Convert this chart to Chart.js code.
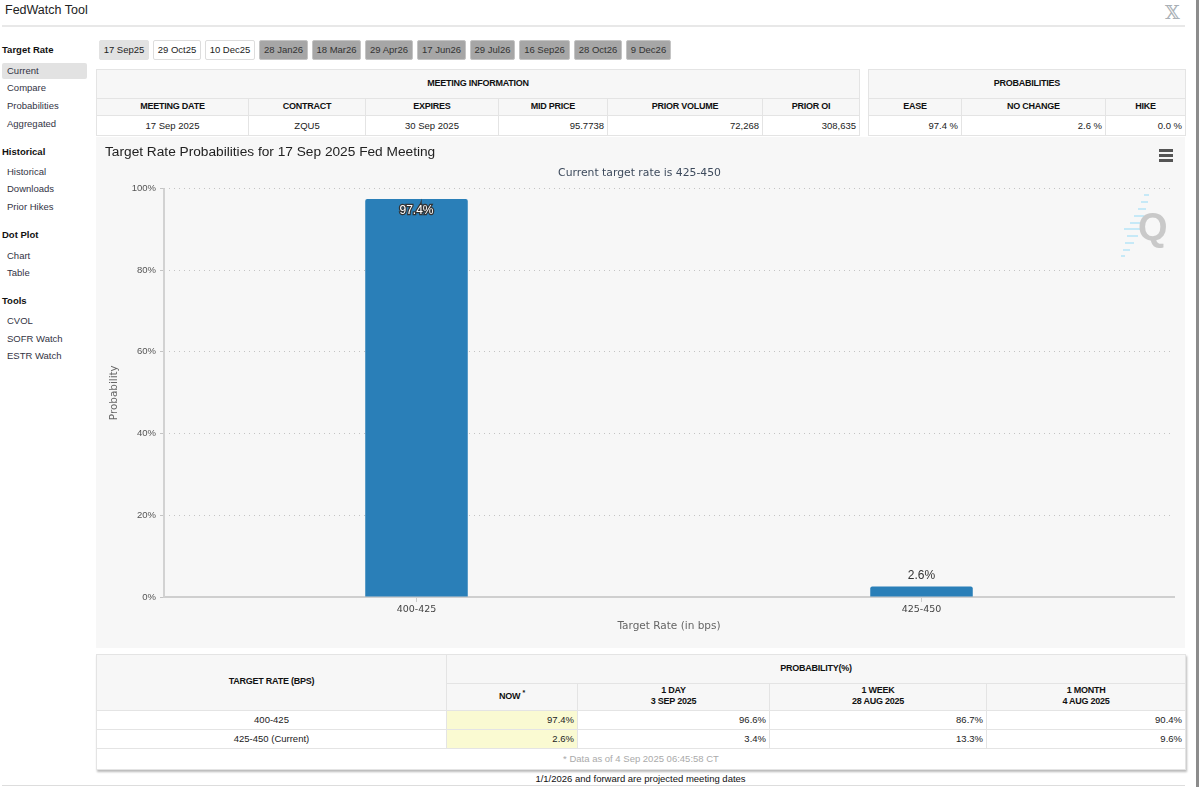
<!DOCTYPE html>
<html>
<head>
<meta charset="utf-8">
<title>FedWatch Tool</title>
<script src="https://cdn.jsdelivr.net/npm/chart.js@4"></script>
<style>
html, body { margin: 0; padding: 0; background: #fff; overflow: hidden; }
body { width: 1200px; height: 787px; position: relative; font-family: "Liberation Sans", Arial, sans-serif; color: #222; }
.abs { position: absolute; }
#top { left: 5px; top: 1px; font-size: 12.5px; line-height: 18px; color: #222; }
#topLine { left: 2px; top: 25px; width: 1183px; height: 2px; background: #e8e8e8; }
#xMark { left: 1165px; top: 2px; font-size: 19px; line-height: 20px; color: #a9b0b6; font-family: "DejaVu Serif", serif; }
#scrollEdge { left: 1196px; top: 0; width: 3px; height: 787px; background: #8c8c8c; }
.side { position: absolute; font-size: 9.5px; line-height: 12px; color: #334; left: 7px; }
.sideHead { position: absolute; font-size: 9.5px; line-height: 12px; font-weight: bold; color: #111; left: 2px; }
#sideOn { left: 2px; top: 63px; width: 85px; height: 16px; background: #e2e2e2; border-radius: 2px; }
.tab { position: absolute; top: 40px; height: 20px; box-sizing: border-box; line-height: 18px; text-align: center; font-size: 9.5px; border: 1px solid #ddd; border-radius: 2px; }
.tab.on { background: #e2e2e2; color: #222; border-color: #e2e2e2; }
.tab.open { background: #fff; color: #222; }
.tab.far { background: #a6a6a6; color: #333; border-color: #c4c4c4; }
table { position: absolute; border-collapse: collapse; table-layout: fixed; font-size: 9.5px; color: #222; }
th, td { border: 1px solid #e4e4e4; padding: 0 3px; overflow: hidden; white-space: nowrap; box-sizing: border-box; }
th { background: #f7f7f7; font-weight: bold; color: #111; line-height: 11px; font-size: 9px; letter-spacing: -0.25px; padding-bottom: 2px; }
th.two { padding-bottom: 3px; }
td { background: #fff; padding-bottom: 1px; }
td.r { text-align: right; }
td.c { text-align: center; }
td.now { background: #fafad2; }
td.note { text-align: center; color: #aaa; }
#lower { box-shadow: 1px 2px 2px #bbb; }
#panel { left: 96px; top: 137px; width: 1089px; height: 511px; background: #f7f7f7; }
#chartWrap { left: 96px; top: 137px; width: 1089px; height: 511px; }
#menu { left: 1159px; top: 149px; width: 14px; }
#menu i { display: block; height: 3px; background: #555; margin-bottom: 2px; }
#logo { left: 1120px; top: 192px; }
#foot { left: 96px; top: 773px; width: 1089px; text-align: center; font-size: 9.5px; line-height: 12px; color: #111; }
#footLine { left: 2px; top: 785px; width: 1183px; height: 1px; background: #ddd; }
</style>
</head>
<body>
<div class="abs" id="top">FedWatch Tool</div>
<div class="abs" id="xMark">𝕏</div>
<div class="abs" id="topLine"></div>
<div class="abs" id="scrollEdge"></div>
<div class="abs" id="sideOn"></div>
<div id="sidebar"></div>
<div id="tabs"></div>

<table id="meeting" style="left:96px;top:69px;width:763px">
  <colgroup id="meetingCols"></colgroup>
  <tr style="height:29px"><th id="meetingHead"></th></tr>
  <tr style="height:17px" id="meetingLabels"></tr>
  <tr style="height:20px" id="meetingValues"></tr>
</table>
<table id="probs" style="left:868px;top:69px;width:317px">
  <colgroup id="probCols"></colgroup>
  <tr style="height:29px"><th colspan="3">PROBABILITIES</th></tr>
  <tr style="height:17px" id="probLabels"></tr>
  <tr style="height:20px" id="probValues"></tr>
</table>

<div class="abs" id="panel"></div>
<div class="abs" id="chartWrap"><canvas id="chartCanvas" width="1089" height="511"></canvas></div>
<div class="abs" id="menu"><i></i><i></i><i></i></div>
<svg class="abs" id="logo" width="50" height="66" viewBox="0 0 50 66">
  <g stroke="#c6e9f7" stroke-width="2">
    <line x1="24" y1="3" x2="29" y2="3"/><line x1="21" y1="10" x2="28" y2="10"/>
    <line x1="18" y1="17" x2="26" y2="17"/><line x1="14" y1="24" x2="24" y2="24"/>
    <line x1="10" y1="31" x2="22" y2="31"/><line x1="4" y1="37" x2="20" y2="37"/>
    <line x1="7" y1="44" x2="18" y2="44"/><line x1="5" y1="51" x2="14" y2="51"/>
    <line x1="3" y1="58" x2="10" y2="58"/><line x1="1" y1="64" x2="5" y2="64"/>
  </g>
  <text x="18" y="48" font-family="Liberation Sans" font-weight="bold" font-size="38" fill="#c9c9c9">Q</text>
</svg>

<table id="lower" style="left:96px;top:654px;width:1089px">
  <colgroup id="lowerCols"></colgroup>
  <tr style="height:29px"><th rowspan="2" id="rateHead"></th><th colspan="4">PROBABILITY(%)</th></tr>
  <tr style="height:27px" id="lowerLabels"></tr>
  <tr style="height:19px" id="rowA"></tr>
  <tr style="height:19px" id="rowB"></tr>
  <tr style="height:21px"><td colspan="5" class="note" id="asOf"></td></tr>
</table>
<div class="abs" id="foot">1/1/2026 and forward are projected meeting dates</div>
<div class="abs" id="footLine"></div>

<script>
// chart data
const targetRates = ['400-425', '425-450'];
const probabilities = [97.4, 2.6];
const yTicks = [0, 20, 40, 60, 80, 100];

// page text
const sideHeads = [['Target Rate', 44], ['Historical', 146], ['Dot Plot', 229], ['Tools', 295]];
const sideLinks = [['Current', 65], ['Compare', 82], ['Probabilities', 100], ['Aggregated', 118],
  ['Historical', 166], ['Downloads', 183], ['Prior Hikes', 201], ['Chart', 250], ['Table', 267],
  ['CVOL', 315], ['SOFR Watch', 333], ['ESTR Watch', 350]];
const tabNames = ['17 Sep25', '29 Oct25', '10 Dec25', '28 Jan26', '18 Mar26', '29 Apr26', '17 Jun26', '29 Jul26', '16 Sep26', '28 Oct26', '9 Dec26'];
const tabEdges = [99, 153, 205, 259, 312, 365, 417, 470, 519, 574, 626, 671];
const meetingHeads = ['MEETING DATE', 'CONTRACT', 'EXPIRES', 'MID PRICE', 'PRIOR VOLUME', 'PRIOR OI'];
const meetingVals = ['17 Sep 2025', 'ZQU5', '30 Sep 2025', '95.7738', '72,268', '308,635'];
const meetingWidths = [152, 117, 133, 109, 155, 97];
const probHeads = ['EASE', 'NO CHANGE', 'HIKE'];
const probVals = ['97.4 %', '2.6 %', '0.0 %'];
const probWidths = [93, 144, 80];
const lowerHeads = ['NOW <sup style="font-size:7px;line-height:0">*</sup>', '1 DAY<br>3 SEP 2025', '1 WEEK<br>28 AUG 2025', '1 MONTH<br>4 AUG 2025'];
const lowerWidths = [350, 131, 192, 217, 199];
const rowLabels = ['400-425', '425-450 (Current)'];
const now = ['97.4%', '2.6%'];
const oneDay = ['96.6%', '3.4%'];
const oneWeek = ['86.7%', '13.3%'];
const oneMonth = ['90.4%', '9.6%'];

function el(id) { return document.getElementById(id); }
function cols(id, widths) { el(id).innerHTML = widths.map(w => `<col style="width:${w}px">`).join(''); }

sideHeads.forEach(h => {
  el('sidebar').insertAdjacentHTML('beforeend', `<div class="sideHead" style="top:${h[1]}px">${h[0]}</div>`);
});
sideLinks.forEach(l => {
  el('sidebar').insertAdjacentHTML('beforeend', `<div class="side" style="top:${l[1]}px">${l[0]}</div>`);
});
tabNames.forEach((t, i) => {
  const cls = i === 0 ? 'on' : (i < 3 ? 'open' : 'far');
  const w = tabEdges[i + 1] - tabEdges[i] - (i < 10 ? 4 : 0);
  el('tabs').insertAdjacentHTML('beforeend', `<div class="tab ${cls}" style="left:${tabEdges[i]}px;width:${w}px">${t}</div>`);
});

cols('meetingCols', meetingWidths);
el('meetingHead').colSpan = 6;
el('meetingHead').textContent = 'MEETING INFORMATION';
el('meetingLabels').innerHTML = meetingHeads.map(h => `<th>${h}</th>`).join('');
el('meetingValues').innerHTML = meetingVals.map((v, i) => `<td class="${i < 3 ? 'c' : 'r'}">${v}</td>`).join('');

cols('probCols', probWidths);
el('probLabels').innerHTML = probHeads.map(h => `<th>${h}</th>`).join('');
el('probValues').innerHTML = probVals.map(v => `<td class="r">${v}</td>`).join('');

cols('lowerCols', lowerWidths);
el('rateHead').textContent = 'TARGET RATE (BPS)';
el('lowerLabels').innerHTML = lowerHeads.map((h, i) => `<th class="${i ? 'two' : ''}">${h}</th>`).join('');
['rowA', 'rowB'].forEach((id, i) => {
  el(id).innerHTML = `<td class="c">${rowLabels[i]}</td><td class="r now">${now[i]}</td>` +
    `<td class="r">${oneDay[i]}</td><td class="r">${oneWeek[i]}</td><td class="r">${oneMonth[i]}</td>`;
});
el('asOf').textContent = '* Data as of 4 Sep 2025 06:45:58 CT';

// value labels: white inside the tall bar, dark above the short one
const barLabels = {
  id: 'barLabels',
  afterDatasetsDraw(chart) {
    const c = chart.ctx;
    chart.getDatasetMeta(0).data.forEach((bar, i) => {
      const text = probabilities[i] + '%';
      const inside = probabilities[i] > 50;
      const y = inside ? bar.y + 12 : bar.y - 11;
      c.save();
      c.font = '12px "Liberation Sans"';
      c.textAlign = 'center';
      c.textBaseline = 'middle';
      if (inside) {
        c.lineWidth = 2.5;
        c.strokeStyle = '#333';
        c.strokeText(text, bar.x, y);
        c.fillStyle = '#fff';
      } else {
        c.fillStyle = '#333';
      }
      c.fillText(text, bar.x, y);
      c.restore();
    });
  }
};

// solid y axis line, the grid's dash setting would break it up
const axisLine = {
  id: 'axisLine',
  beforeDatasetsDraw(chart) {
    const c = chart.ctx;
    const area = chart.chartArea;
    c.save();
    c.strokeStyle = '#d2d2d2';
    c.lineWidth = 2;
    c.beginPath();
    c.moveTo(area.left, area.top);
    c.lineTo(area.left, area.bottom);
    c.stroke();
    c.restore();
  }
};

new Chart(el('chartCanvas').getContext('2d'), {
  type: 'bar',
  data: {
    labels: targetRates,
    datasets: [{
      data: probabilities,
      backgroundColor: '#2a7fb8',
      borderRadius: { topLeft: 2, topRight: 2 },
      borderSkipped: 'bottom',
      categoryPercentage: 1,
      barPercentage: 0.203
    }]
  },
  options: {
    responsive: false,
    animation: false,
    layout: { padding: { left: 9, right: 11, top: 0, bottom: 15 } },
    plugins: {
      legend: { display: false },
      tooltip: { enabled: false },
      title: {
        display: true,
        text: 'Target Rate Probabilities for 17 Sep 2025 Fed Meeting',
        align: 'start',
        color: '#222',
        font: { family: '"Liberation Sans"', size: 13.7, weight: 'normal' },
        padding: { top: 7, bottom: 4 }
      },
      subtitle: {
        display: true,
        text: 'Current target rate is 425-450',
        color: '#3d4a5c',
        font: { family: '"DejaVu Sans"', size: 10.8, weight: 'normal' },
        padding: { top: 2, bottom: 9 }
      }
    },
    scales: {
      x: {
        grid: { drawOnChartArea: false, offset: false, color: '#ccc', tickLength: 5 },
        border: { color: '#cfcfcf', width: 2 },
        ticks: { color: '#444', font: { family: '"DejaVu Sans"', size: 9.5 }, padding: 2 },
        title: { display: true, text: 'Target Rate (in bps)', color: '#666', font: { family: '"DejaVu Sans"', size: 10.5 }, padding: { top: 3, bottom: 0 } }
      },
      y: {
        min: 0,
        max: 100,
        afterBuildTicks(axis) { axis.ticks = yTicks.map(v => ({ value: v })); },
        afterFit(axis) { axis.width = 59; },
        border: { display: false, dash: [1, 4] },
        grid: { color: '#c4c4c4', tickLength: 4, lineWidth: 1, tickBorderDash: [] },
        ticks: { color: '#555', font: { family: '"Liberation Sans"', size: 9.5 }, padding: 4, callback: v => v + '%' },
        title: { display: true, text: 'Probability', color: '#666', font: { family: '"DejaVu Sans"', size: 10.4 }, padding: { top: 3, bottom: 0 } }
      }
    }
  },
  plugins: [axisLine, barLabels]
});
</script>
</body>
</html>
